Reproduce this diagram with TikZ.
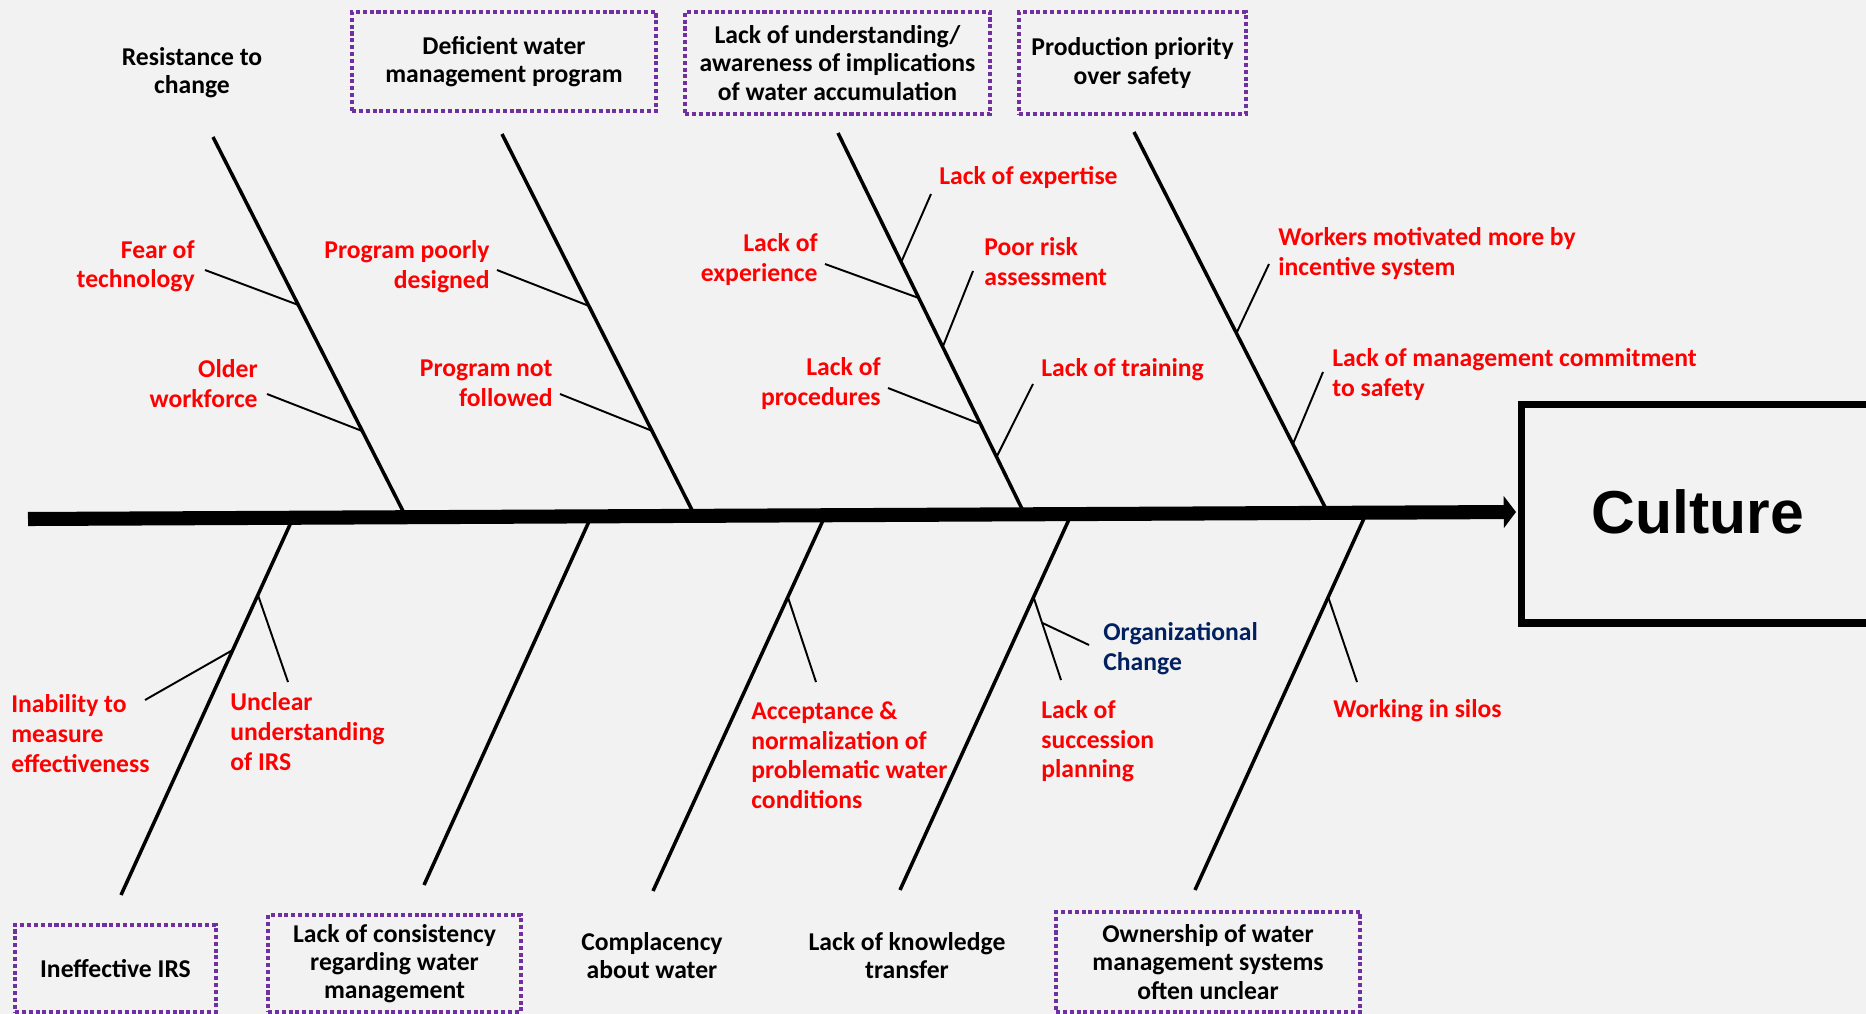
\documentclass[tikz,border=0pt]{standalone}
\usepackage{fontspec}
\setmainfont{Carlito}
\newfontfamily\arialfont{Liberation Sans}
\usetikzlibrary{arrows.meta,calc}
\definecolor{bg}{RGB}{242,242,242}
\definecolor{cred}{RGB}{255,0,0}
\definecolor{cnavy}{RGB}{0,32,96}
\definecolor{cpurple}{RGB}{112,48,160}
\begin{document}
\begin{tikzpicture}[x=0.02cm,y=-0.02cm,
  lbl/.style={font=\bfseries\fontsize{14.6}{16}\selectfont, inner sep=0pt},
  cause/.style={font=\bfseries\fontsize{14.6}{17}\selectfont, inner sep=0pt, text=cred, yshift=-1.3pt},
  headlbl/.style={lbl, text=black, align=center},
  dbox/.style={headlbl, draw=cpurple, line width=2pt, dash pattern=on 2.3pt off 1.6pt},
  bone/.style={line width=2pt, black},
  twig/.style={line width=1.1pt, black},
]
\useasboundingbox (0,0) rectangle (1866,1014);
\clip (0,0) rectangle (1866,1014);
\fill[bg] (0,0) rectangle (1866,1014);

% spine and head
\coordinate (sL) at (28,519);
\coordinate (sR) at (1516,512);
\node[draw, line width=4pt, minimum width=7.6cm, minimum height=4.38cm, inner sep=0pt] (headbox) at (1711,513.5) {};
\node[font=\arialfont\bfseries\fontsize{34.5}{40}\selectfont, inner sep=0pt] (culture) at (1698,512) {Culture};

% bones
\coordinate (t1) at (213,137);  \coordinate (b1) at (406,517);
\coordinate (t2) at (502,134);  \coordinate (b2) at (695,516);
\coordinate (t3) at (838,133);  \coordinate (b3) at (1025,515);
\coordinate (t4) at (1134,132); \coordinate (b4) at (1328,513);
\coordinate (t5) at (293,518);  \coordinate (b5) at (121,895);
\coordinate (t6) at (591,517);  \coordinate (b6) at (424,885);
\coordinate (t7) at (825,516);  \coordinate (b7) at (653,891);
\coordinate (t8) at (1071,515); \coordinate (b8) at (900,890);
\coordinate (t9) at (1366,514); \coordinate (b9) at (1195,890);
\foreach \i in {1,...,9} {\draw[bone] (t\i) -- (b\i);}

\draw[line width=8pt, -{Triangle[length=7pt,width=18pt]}] (sL) -- (sR);

% head labels
\node[headlbl] (h1) at (192,73) {Resistance to\\change};
\node[dbox, minimum width=6.08cm, minimum height=1.98cm] (h2) at (504,61.5) {Deficient water\\management program};
\node[dbox, minimum width=6.10cm, minimum height=2.04cm] (h3) at (837.5,63) {Lack of understanding/\\awareness of implications\\of water accumulation};
\node[dbox, minimum width=4.54cm, minimum height=2.04cm] (h4) at (1132.5,63) {Production priority\\over safety};
\node[dbox, minimum width=4.02cm, minimum height=1.74cm] (h5) at (115.5,968.5) {Ineffective IRS};
\node[dbox, minimum width=5.06cm, minimum height=1.94cm] (h6) at (394.5,963.5) {Lack of consistency\\regarding water\\management};
\node[headlbl] (h7) at (652,956) {Complacency\\about water};
\node[headlbl] (h8) at (907,956) {Lack of knowledge\\transfer};
\node[dbox, minimum width=6.08cm, minimum height=2.0cm] (h9) at (1208,962) {Ownership of water\\management systems\\often unclear};

% cause labels
\node[cause, align=right, anchor=east] (c11) at (195,264) {Fear of\\technology};
\node[cause, align=right, anchor=east] (c12) at (258,381) {Older\\workforce};
\node[cause, align=right, anchor=east] (c21) at (490,264) {Program poorly\\designed};
\node[cause, align=right, anchor=east] (c22) at (553,381) {Program not\\followed};
\node[cause, anchor=west] (c31) at (939,175) {Lack of expertise};
\node[cause, align=right, anchor=east] (c32) at (818,257) {Lack of\\experience};
\node[cause, align=left, anchor=west] (c33) at (984,259) {Poor risk\\assessment};
\node[cause, align=right, anchor=east] (c34) at (881,381) {Lack of\\procedures};
\node[cause, anchor=west] (c35) at (1041,367) {Lack of training};
\node[cause, align=left, anchor=west] (c41) at (1278,251) {Workers motivated more by\\incentive system};
\node[cause, align=left, anchor=west] (c42) at (1332,372) {Lack of management commitment\\to safety};
\node[cause, align=left, anchor=west] (c51) at (11,731) {Inability to\\measure\\effectiveness};
\node[cause, align=left, anchor=west] (c52) at (230,729) {Unclear\\understanding\\of IRS};
\node[cause, align=left, anchor=west] (c71) at (751,753) {Acceptance \&\\normalization of\\problematic water\\conditions};
\node[cause, align=left, anchor=west, text=cnavy] (c82) at (1103,646) {Organizational\\Change};
\node[cause, align=left, anchor=west] (c81) at (1041,739) {Lack of\\succession\\planning};
\node[cause, anchor=west] (c91) at (1333,708) {Working in silos};

% twig free ends
\coordinate (e11) at (205,270);
\coordinate (e12) at (267,394);
\coordinate (e21) at (497,270);
\coordinate (e22) at (560,394);
\coordinate (e31) at (931,194);
\coordinate (e32) at (825,264);
\coordinate (e33) at (973,271);
\coordinate (e34) at (888,388);
\coordinate (e35) at (1033,384);
\coordinate (e41) at (1269,264);
\coordinate (e42) at (1323,372);
\coordinate (e51) at (145,700);
\coordinate (e52) at (288,682);
\coordinate (e71) at (816,682);
\coordinate (e81) at (1061,680);
\coordinate (e82) at (1089,645);
\coordinate (e91) at (1357,682);

% twigs
\draw[twig] ($(t1)!0.442!(b1)$) -- (e11);
\draw[twig] ($(t1)!0.774!(b1)$) -- (e12);
\draw[twig] ($(t2)!0.450!(b2)$) -- (e21);
\draw[twig] ($(t2)!0.777!(b2)$) -- (e22);
\draw[twig] ($(t3)!0.338!(b3)$) -- (e31);
\draw[twig] ($(t3)!0.432!(b3)$) -- (e32);
\draw[twig] ($(t3)!0.560!(b3)$) -- (e33);
\draw[twig] ($(t3)!0.762!(b3)$) -- (e34);
\draw[twig] ($(t3)!0.848!(b3)$) -- (e35);
\draw[twig] ($(t4)!0.528!(b4)$) -- (e41);
\draw[twig] ($(t4)!0.819!(b4)$) -- (e42);
\draw[twig] ($(t5)!0.350!(b5)$) -- (e51);
\draw[twig] ($(t5)!0.204!(b5)$) -- (e52);
\draw[twig] ($(t7)!0.216!(b7)$) -- (e71);
\coordinate (p81) at ($(t8)!0.219!(b8)$);
\draw[twig] (p81) -- (e81);
\draw[twig] ($(p81)!0.31!(e81)$) -- (e82);
\draw[twig] ($(t9)!0.221!(b9)$) -- (e91);
\end{tikzpicture}
\end{document}
